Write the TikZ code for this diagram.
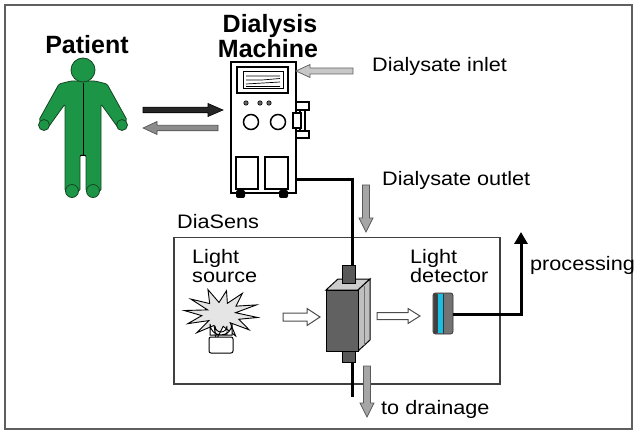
\documentclass[tikz,border=0pt]{standalone}
\usepackage{fontspec}
\setmainfont{Liberation Sans}
\newfontfamily\labelfont[FakeStretch=1.11]{Liberation Sans}
\usetikzlibrary{arrows.meta}

\definecolor{suitgreen}{RGB}{28,150,70}
\definecolor{suitedge}{RGB}{20,70,35}
\definecolor{detcyan}{RGB}{25,190,225}
\definecolor{framegray}{RGB}{95,95,95}

\tikzset{
  lbl/.style={font=\labelfont\fontsize{19.5}{20}\selectfont, inner sep=0pt, anchor=base west},
  ttl/.style={font=\bfseries\fontsize{25}{26}\selectfont, inner sep=0pt, anchor=base},
  tube/.style={line width=3pt, black},
  machline/.style={draw=black, line width=1.5pt},
  blackblock/.style={fill=black!85, draw=black, line width=0.6pt},
  grayblock/.style={fill=black!45, draw=black!70, line width=0.6pt},
  flowblock/.style={fill=black!35, draw=black!65, line width=0.8pt},
  inletblock/.style={fill=black!22, draw=black!60, line width=0.8pt},
  lightblock/.style={fill=white, draw=black!70, line width=1pt},
}

% horizontal block arrow: style, tail x, head-base x, tip x, y, shaft half width, head half width
\newcommand\hblock[7]{%
  \draw[#1] ({#2},{#5-#6}) -- ({#3},{#5-#6}) -- ({#3},{#5-#7}) -- ({#4},{#5})
    -- ({#3},{#5+#7}) -- ({#3},{#5+#6}) -- ({#2},{#5+#6}) -- cycle;}
% vertical block arrow: style, x, tail y, head-base y, tip y, shaft half width, head half width
\newcommand\vblock[7]{%
  \draw[#1] ({#2-#6},{#3}) -- ({#2-#6},{#4}) -- ({#2-#7},{#4}) -- ({#2},{#5})
    -- ({#2+#7},{#4}) -- ({#2+#6},{#4}) -- ({#2+#6},{#3}) -- cycle;}

\begin{document}
\begin{tikzpicture}[x=1pt, y=-1pt]
\useasboundingbox (0,0) rectangle (638,433);

% outer frame
\draw[framegray, line width=2pt] (5,5) rectangle (632,429);

% ---------- patient ----------
\node[ttl] (patientlbl) at (87,54) {Patient};
\filldraw[fill=suitgreen, draw=suitedge, line width=0.8pt, rounded corners=1.5pt]
  (71,81) -- (59,84) -- (39,120) -- (47,129) -- (65,104) -- (65,191) -- (80,191)
  -- (80,155) -- (86,155) -- (86,191) -- (101,191) -- (101,104) -- (119,129)
  -- (127,120) -- (107,84) -- (95,81) -- cycle;
\filldraw[fill=suitgreen, draw=suitedge, line width=0.8pt] (44,125) circle (5.5);
\filldraw[fill=suitgreen, draw=suitedge, line width=0.8pt] (122,125) circle (5.5);
\filldraw[fill=suitgreen, draw=suitedge, line width=0.8pt] (72,191) circle (6.5);
\filldraw[fill=suitgreen, draw=suitedge, line width=0.8pt] (93,191) circle (6.5);
\filldraw[fill=suitgreen, draw=suitedge, line width=0.8pt] (83,70) circle (12);
\draw[black, line width=0.8pt] (83,83) -- (83,155) (80,155) -- (86,155);

% ---------- dialysis machine ----------
\node[ttl] (machlblA) at (270,33) {Dialysis};
\node[ttl] (machlblB) at (268,58) {Machine};
\node[draw=black, line width=1.8pt, fill=white, minimum width=65pt, minimum height=131pt,
      inner sep=0pt, anchor=north west] (machine) at (230,61) {};
% screen
\draw[machline] (237,67) rectangle (288,93);
\draw[black, line width=1pt] (243,72) rectangle (283,89);
\draw[black, line width=0.7pt] (246,76) -- (280,76) (246,80) -- (262,80) -- (280,78.5)
  (246,84) -- (280,82) (246,86.5) -- (280,86.5);
% buttons and knobs
\foreach \bx in {246,260,269} \filldraw[fill=black!60, draw=black, line width=0.6pt] (\bx,103) circle (2.2);
\draw[machline] (251,122) circle (7.5) (278,122) circle (7.5);
% doors
\draw[machline] (236,157) rectangle (258,189) (265,157) rectangle (288,189);
% wheels
\fill[black, rounded corners=2pt] (236,190) rectangle (245,198) (279,190) rectangle (288,198);
% side filter
\draw[black, line width=1.2pt, fill=white] (300,110) rectangle (305,131);
\draw[black, line width=1.2pt, fill=white] (296,102) rectangle (309,110);
\draw[black, line width=1.2pt, fill=white] (296,131) rectangle (309,138);
\draw[black, line width=1.2pt, fill=white] (293,113) rectangle (301,128);

% patient <-> machine flow
\hblock{blackblock}{143}{208}{223}{110}{2.8}{6.5}
\hblock{grayblock}{218}{157}{143}{128}{2.8}{6.5}

% dialysate inlet
\hblock{inletblock}{353}{310}{296}{71}{3}{6.5}
\node[lbl] (inletlbl) at (372,72) {Dialysate inlet};

% dialysate outlet
\node[lbl] (outletlbl) at (382,186) {Dialysate outlet};
\vblock{flowblock}{366}{185}{218}{232}{3.5}{7}

% ---------- DiaSens ----------
\node[lbl] (diasenslbl) at (177,229) {DiaSens};
\node[draw=black!75, line width=1.5pt, minimum width=326pt, minimum height=146pt,
      inner sep=0pt, anchor=north west] (diasens) at (173,237) {};

% light source
\node[lbl] (srclblA) at (192,264) {Light};
\node[lbl] (srclblB) at (192,283) {source};
\filldraw[fill=black!10, draw=black, line width=0.9pt]
  plot[samples at={0,15,...,345}]
  ({221+(27+10*cos(12*\x)+2.5*sin(7*\x))*cos(\x+8)},
   {314+(18.5+6.5*cos(12*\x)+1.5*sin(5*\x))*sin(\x+8)}) -- cycle;
\filldraw[fill=white, draw=black, line width=1pt]
  (210,335) -- (210,324) arc[start angle=180, end angle=0, radius=11] -- (232,335) -- cycle;
\draw[black, line width=0.9pt] (215,335) -- (215,326) arc[start angle=180, end angle=0, radius=6] -- (227,335);
\filldraw[fill=white, draw=black, line width=1pt, rounded corners=2pt] (209,337) rectangle (233,353);

% light path into the cell
\hblock{lightblock}{283}{307}{320}{317}{4}{8.5}

% flow cell
\coordinate (machout) at (295,180);
\coordinate (celltop) at (352,266);
\coordinate (cellbot) at (352,362);
\coordinate (drainend) at (352,397);
\draw[tube] (machout) -| (celltop);
\draw[tube] (cellbot) -- (drainend);
\filldraw[fill=black!20, draw=black, line width=1pt] (326,290) -- (338,279) -- (370,279) -- (358,290) -- cycle;
\filldraw[fill=black!25, draw=black, line width=1pt] (358,290) -- (370,279) -- (370,340) -- (358,351) -- cycle;
\draw[black!55, line width=0.8pt] (364,286) -- (364,345);
\node[draw=black, line width=1pt, fill=black!62, minimum width=32pt, minimum height=61pt,
      inner sep=0pt, anchor=north west] (cell) at (326,290) {};
\filldraw[fill=black!65, draw=black, line width=1pt] (342,266) rectangle (355,283);
\filldraw[fill=black!65, draw=black, line width=1pt] (342,351) rectangle (355,362);

% light path out of the cell
\hblock{lightblock}{377}{408}{420}{316}{3.5}{7.5}

% drainage
\vblock{flowblock}{367}{366}{403}{417}{3.5}{7}
\node[lbl] (drainlbl) at (381,414) {to drainage};

% light detector
\node[lbl] (detlblA) at (410,264) {Light};
\node[lbl] (detlblB) at (410,283) {detector};
\filldraw[fill=black!55, draw=black!80, line width=0.8pt, rounded corners=2.5pt] (433,293) rectangle (453,334);
\fill[black!75, rounded corners=2pt] (433.5,293.5) rectangle (438,333.5);
\fill[detcyan] (438,294) rectangle (443,333);
\draw[black!80, line width=0.8pt] (443,293.5) -- (443,333.5);
\node[inner sep=0pt, minimum size=0pt] (detector) at (443,313.5) {};

% signal to processing
\coordinate (detout) at (453,314);
\coordinate (proctip) at (521,232);
\draw[tube, -{Triangle[length=12pt, width=13pt]}] (detout) -| (proctip);
\node[lbl] (proclbl) at (530,271) {processing};

\end{tikzpicture}
\end{document}
